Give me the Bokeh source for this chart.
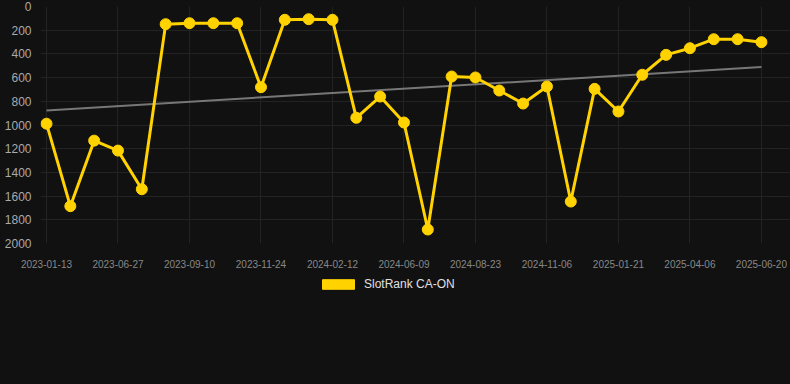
import numpy as np
from bokeh.plotting import figure
from bokeh.layouts import column
from bokeh.models import Range1d, FixedTicker, Legend, LegendItem, ColumnDataSource
from bokeh.embed import file_html
from bokeh.resources import INLINE

dates = ["2023-01-13", "2023-03-09", "2023-05-03", "2023-06-27", "2023-07-22",
         "2023-08-16", "2023-09-10", "2023-10-05", "2023-10-30", "2023-11-24",
         "2023-12-19", "2024-01-13", "2024-02-12", "2024-03-22", "2024-05-01",
         "2024-06-09", "2024-07-04", "2024-07-29", "2024-08-23", "2024-09-17",
         "2024-10-12", "2024-11-06", "2024-12-01", "2024-12-26", "2025-01-21",
         "2025-02-15", "2025-03-12", "2025-04-06", "2025-05-01", "2025-05-26",
         "2025-06-20"]
ranks = [989, 1685, 1132, 1216, 1542, 149, 141, 141, 141, 681,
         112, 107, 112, 939, 760, 979, 1882, 591, 599, 709,
         819, 675, 1646, 695, 886, 576, 408, 352, 276, 276, 301]
series_name = "SlotRank CA-ON"
y_ticks = [0, 200, 400, 600, 800, 1000, 1200, 1400, 1600, 1800, 2000]

idx = list(range(len(dates)))
slope, intercept = np.polyfit(idx, ranks, 1)
trend_x = [idx[0], idx[-1]]
trend_y = [intercept + slope * idx[0], intercept + slope * idx[-1]]

BG = "#111111"
YELLOW = "#FFD200"

p = figure(width=790, height=270, output_backend="svg", toolbar_location=None,
           x_range=Range1d(-0.252, 31.22), y_range=Range1d(2000, 0),
           background_fill_color=BG, border_fill_color=BG,
           min_border_left=40, min_border_right=0, min_border_top=6,
           min_border_bottom=27, outline_line_color=None)

p.line(trend_x, trend_y, line_color="#777777", line_width=2)
src = ColumnDataSource(dict(x=idx, y=ranks))
p.line("x", "y", source=src, line_color=YELLOW, line_width=3)
p.scatter("x", "y", source=src, size=11, fill_color=YELLOW, line_color=YELLOW)

p.xaxis.ticker = FixedTicker(ticks=idx[::3])
p.xaxis.major_label_overrides = {i: dates[i] for i in idx[::3]}
p.yaxis.ticker = FixedTicker(ticks=y_ticks)

for ax in (p.xaxis, p.yaxis):
    ax.axis_line_color = None
    ax.major_tick_line_color = None
    ax.minor_tick_line_color = None
    ax.major_label_text_font = "Liberation Sans"
p.xaxis.major_label_text_font_size = "10px"
p.xaxis.major_label_text_color = "#888888"
p.xaxis.major_label_standoff = 10
p.yaxis.major_label_text_font_size = "12px"
p.yaxis.major_label_text_color = "#aaaaaa"
p.yaxis.major_label_standoff = 3

p.xgrid.grid_line_color = "#232323"
p.ygrid.grid_line_color = "#232323"
p.xgrid.ticker = FixedTicker(ticks=idx[::3])
p.ygrid.ticker = FixedTicker(ticks=y_ticks)

# legend strip below the chart
lg = figure(width=790, height=114, output_backend="svg", toolbar_location=None,
            x_axis_type=None, y_axis_type=None,
            x_range=Range1d(0, 1), y_range=Range1d(0, 1),
            background_fill_color=BG, border_fill_color=BG,
            min_border=0, outline_line_color=None)
lg.xgrid.visible = False
lg.ygrid.visible = False
dummy = lg.quad(left=[0], right=[0], top=[0], bottom=[0], fill_color=YELLOW,
                line_color=YELLOW)

legend = Legend(items=[LegendItem(label=series_name, renderers=[dummy])],
                location=(274, 89), orientation="horizontal",
                glyph_width=40, glyph_height=12, label_standoff=6,
                label_text_font="Liberation Sans", label_text_font_size="12px",
                label_text_color="#e0e0e0", border_line_alpha=0,
                background_fill_alpha=0, padding=4, margin=0)
lg.add_layout(legend, "center")

layout = column(p, lg, spacing=0)
html = file_html(layout, INLINE)
html = html.replace("<head>", "<head><style>html, body { margin: 0; padding: 0; background-color: #111111; overflow: hidden; }</style>", 1)
open("out.html", "w").write(html)
